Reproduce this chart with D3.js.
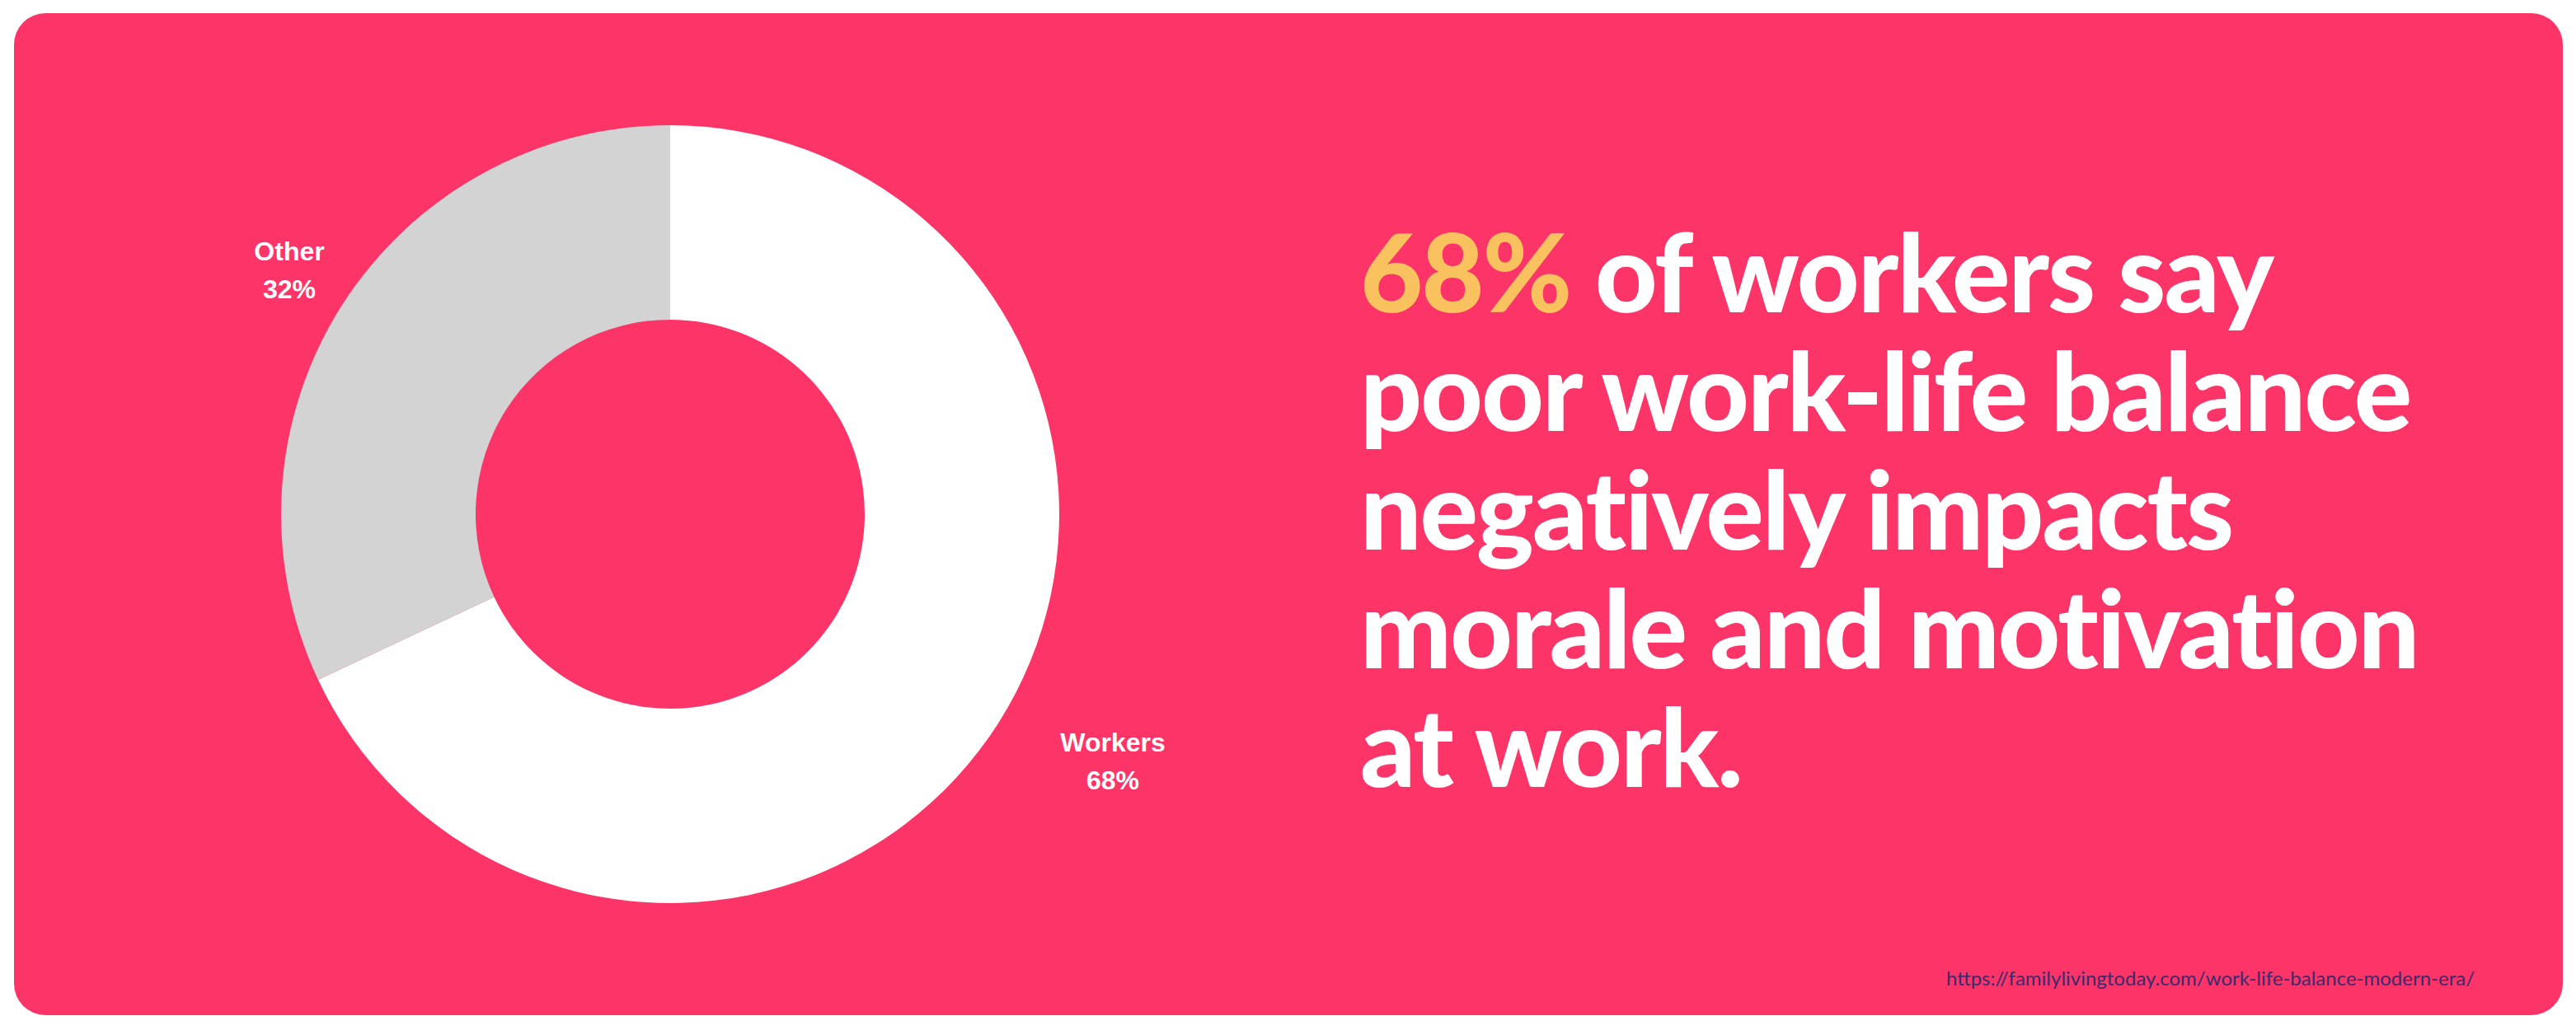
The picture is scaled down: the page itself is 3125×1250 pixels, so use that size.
<!DOCTYPE html>
<html><head><meta charset="utf-8">
<script src="https://cdn.jsdelivr.net/npm/d3@7"></script>
<style>html,body{margin:0;padding:0;background:#fff;}</style>
</head><body>
<svg id="c" width="3125" height="1250"></svg>
<script>
const categories = ["Workers", "Other"];
const values = [68, 32];
const colors = ["#ffffff", "#d3d3d3"];
const headline = [
  [["68%", "#f9c25f"], [" of workers say", "#ffffff"]],
  [["poor work-life balance", "#ffffff"]],
  [["negatively impacts", "#ffffff"]],
  [["morale and motivation", "#ffffff"]],
  [["at work.", "#ffffff"]]
];
const source = "https://familylivingtoday.com/work-life-balance-modern-era/";

const svg = d3.select("#c");
svg.append("rect").attr("x",17).attr("y",16).attr("width",3092).attr("height",1216)
  .attr("rx",38).attr("fill","#fc3468");

const cx = 813, cy = 624, R = 472, r0 = 236;
const pie = d3.pie().sort(null).value(d=>d.v);
const arcs = pie(categories.map((c,i)=>({c, v:values[i], col:colors[i]})));
const arc = d3.arc().innerRadius(r0).outerRadius(R);
const g = svg.append("g").attr("transform",`translate(${cx},${cy})`);
g.selectAll("path").data(arcs).join("path").attr("d",arc).attr("fill",d=>d.data.col);

const labelPos = {Workers:[1350,912], Other:[351,316]};
arcs.forEach(a=>{
  const [x,y] = labelPos[a.data.c];
  const t = svg.append("text").attr("x",x).attr("y",y).attr("text-anchor","middle")
    .attr("font-family","Liberation Sans, Arial, sans-serif").attr("font-weight","bold")
    .attr("font-size",32).attr("fill","#fff");
  t.append("tspan").attr("x",x).text(a.data.c);
  t.append("tspan").attr("x",x).attr("dy",46).text(a.data.v+"%");
});

const tx = 1650, baselines = [379, 523, 667, 811, 955];
const texts = headline.map((parts,i)=>{
  const t = svg.append("text").attr("x",tx).attr("y",baselines[i])
    .attr("font-family","Lato, sans-serif").attr("font-weight",900)
    .attr("font-size",140).attr("letter-spacing",-2);
  parts.forEach(p=>t.append("tspan").attr("fill",p[1]).text(p[0]));
  return t;
});
const w = texts[3].node().getComputedTextLength();
const fs = 140*1286/w;
texts.forEach(t=>t.attr("font-size",fs));

svg.append("text").attr("x",3002).attr("y",1196).attr("text-anchor","end")
  .attr("font-family","Lato, sans-serif").attr("font-size",24).attr("fill","#3b2a6e")
  .text(source);
</script>
</body></html>
